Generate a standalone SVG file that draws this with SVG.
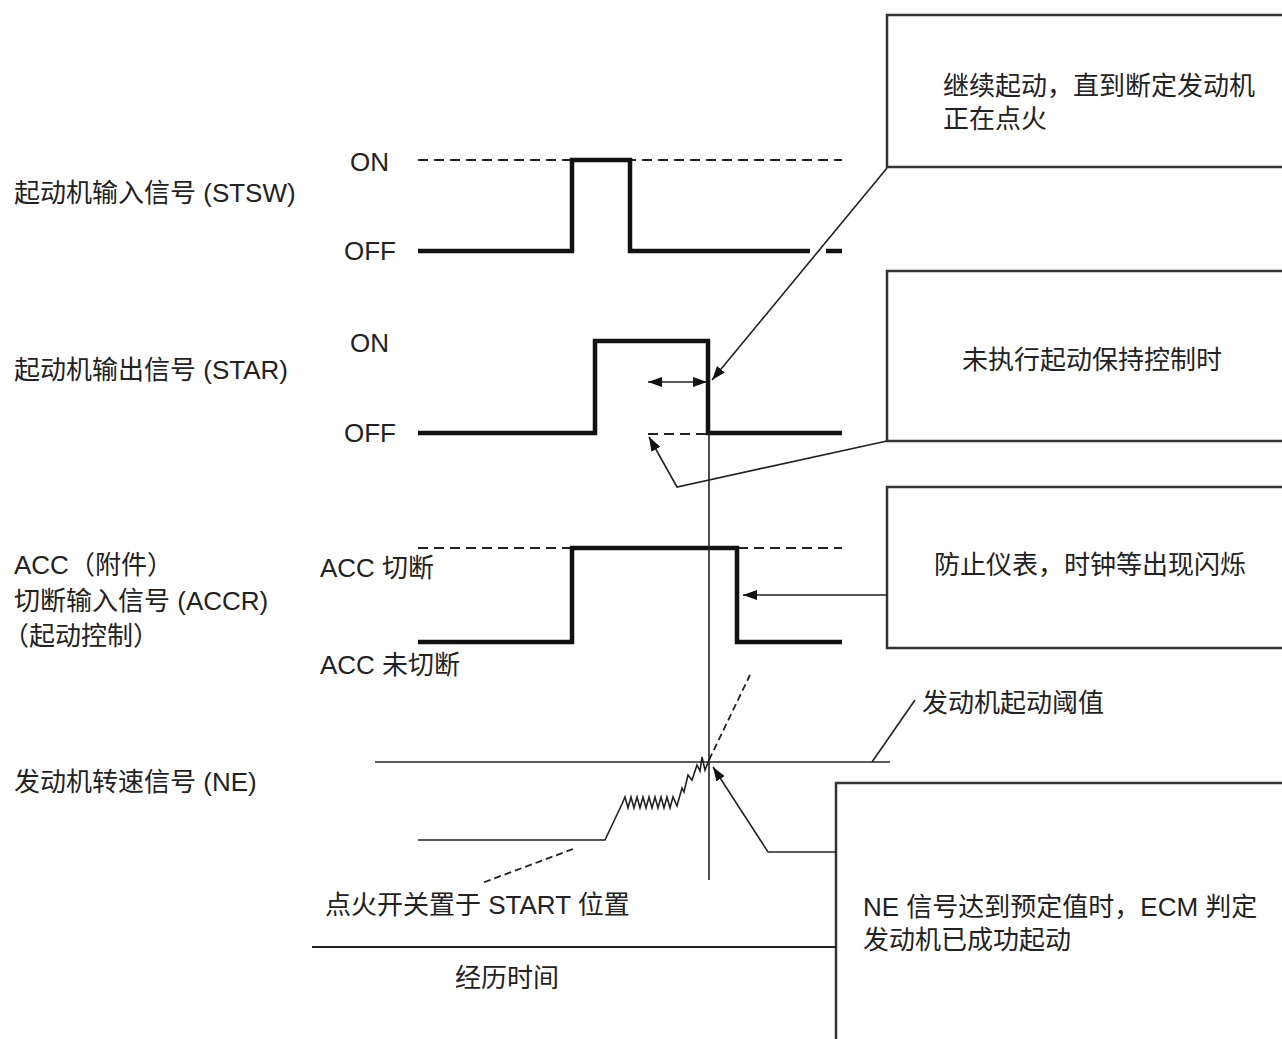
<svg xmlns="http://www.w3.org/2000/svg" width="1282" height="1039" viewBox="0 0 1282 1039">
<defs>
<marker id="ah" viewBox="0 0 14 10" refX="14" refY="5" markerUnits="userSpaceOnUse" markerWidth="14" markerHeight="10" orient="auto-start-reverse">
<path d="M0,0 L14,5 L0,10 z" fill="#111"/>
</marker>
<style>
text{font-family:"Liberation Sans","Noto Sans CJK SC",sans-serif;font-size:26px;fill:#222;dominant-baseline:central}
.sig{fill:none;stroke:#111;stroke-width:4.5;stroke-linejoin:miter}
.dash{fill:none;stroke:#222;stroke-width:2;stroke-dasharray:10,6}
.thin{fill:none;stroke:#222;stroke-width:1.6}
.box{fill:#fff;stroke:#333;stroke-width:2.5}
.lead{fill:none;stroke:#222;stroke-width:1.6}
</style>
</defs>
<rect width="1282" height="1039" fill="#fff"/>

<g id="stsw">
<text x="14" y="193">起动机输入信号 (STSW)</text>
<text x="350" y="162">ON</text>
<text x="344" y="251">OFF</text>
<path class="dash" d="M418,160 H842"/>
<path class="sig" d="M418,251 H572 V160 H630 V251 H810"/>
<path class="sig" d="M826,251 H842"/>
</g>

<g id="star">
<text x="14" y="370">起动机输出信号 (STAR)</text>
<text x="350" y="343">ON</text>
<text x="344" y="433">OFF</text>
<path class="sig" d="M418,433 H595 V341 H708 V433 H842"/>
<path class="dash" d="M648,434 H706"/>
</g>

<g id="accr">
<text x="14" y="565">ACC（附件）</text>
<text x="14" y="601">切断输入信号 (ACCR)</text>
<text x="3" y="636">（起动控制）</text>
<text x="320" y="568">ACC 切断</text>
<text x="320" y="665">ACC 未切断</text>
<path class="dash" d="M418,548 H842"/>
<path class="sig" d="M418,642 H572 V548 H737 V642 H842"/>
</g>

<g id="ne">
<text x="14" y="782">发动机转速信号 (NE)</text>
<text x="922" y="703">发动机起动阈值</text>
<text x="325" y="905">点火开关置于 START 位置</text>
<path class="thin" d="M375,762 H890"/>
<path class="thin" d="M418,840 H605 L622,804 L625,797 L628,808 L631,797 L634,808 L637,797 L640,808 L643,797 L646,808 L649,797 L652,808 L655,797 L658,808 L661,797 L664,808 L667,797 L670,808 L673,797 L677,806 L682,788 L684,792 L688,775 L692,780 L697,765 L700,771 L702,757 L705,770 L709,760"/>
<path class="dash" d="M709,760 L750,675" style="stroke-width:1.8;stroke-dasharray:7,4"/>
</g>

<g id="time">
<text x="455" y="978">经历时间</text>
</g>

<g id="box1">
<rect class="box" x="887" y="15" width="410" height="152"/>
<text x="943" y="86">继续起动，直到断定发动机</text>
<text x="943" y="119">正在点火</text>
</g>

<g id="box2">
<rect class="box" x="887" y="271" width="410" height="170"/>
<text x="962" y="360">未执行起动保持控制时</text>
</g>

<g id="box3">
<rect class="box" x="887" y="487" width="410" height="161"/>
<text x="934" y="565">防止仪表，时钟等出现闪烁</text>
</g>

<g id="box4">
<rect class="box" x="836" y="783" width="460" height="270"/>
<text x="863" y="907">NE 信号达到预定值时，ECM 判定</text>
<text x="863" y="940">发动机已成功起动</text>
</g>

<g id="connectors">
<path class="thin" d="M709,433 V880"/>
<path class="lead" d="M887,168 L712,380" marker-end="url(#ah)"/>
<path class="lead" d="M648,382 L707,382" marker-start="url(#ah)" marker-end="url(#ah)"/>
<path class="lead" d="M887,441 L677,487 L649,437" marker-end="url(#ah)"/>
<path class="lead" d="M887,595 L743,595" marker-end="url(#ah)"/>
<path class="lead" d="M872,762 L915,700"/>
<path class="lead" d="M836,852 L768,852 L713,767" marker-end="url(#ah)"/>
<path class="dash" d="M573,849 L482,883" style="stroke-width:1.8;stroke-dasharray:7,4"/>
<path class="thin" d="M312,947 H836" style="stroke-width:2"/>
</g>
</svg>
